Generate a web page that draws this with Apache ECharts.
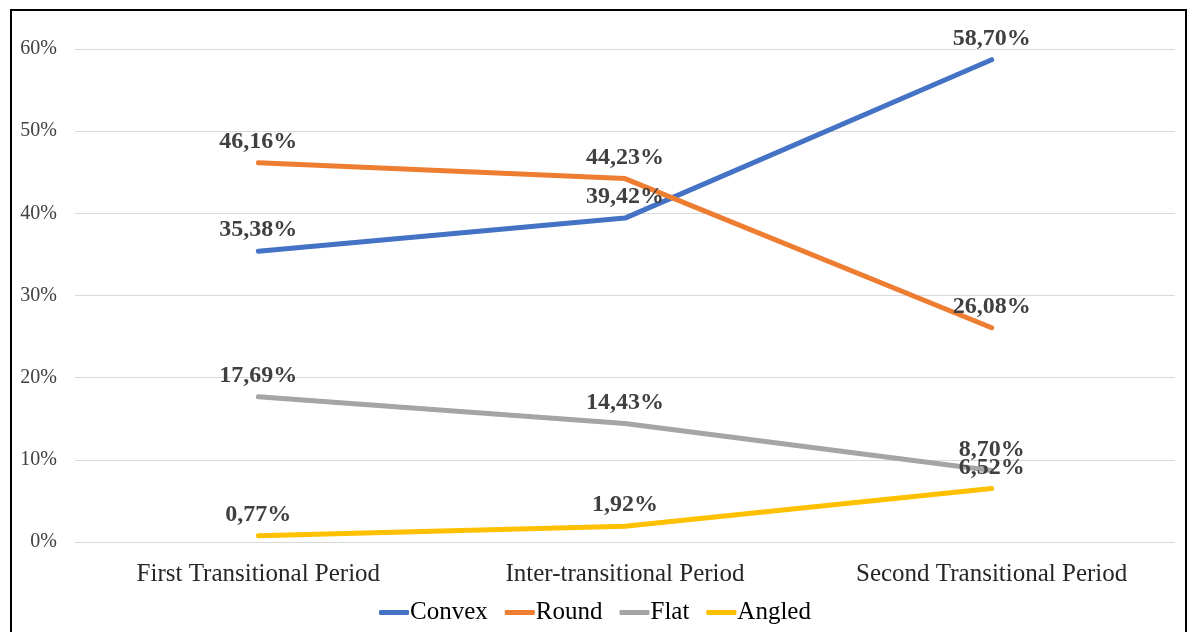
<!DOCTYPE html>
<html>
<head>
<meta charset="utf-8">
<script src="https://cdn.jsdelivr.net/npm/echarts@6/dist/echarts.min.js"></script>
<style>
  html, body { margin: 0; padding: 0; background: #fff; }
  #chart { width: 1190px; height: 632px; }
</style>
</head>
<body>
<div id="chart"></div>
<script>
// Periods along the x axis
const periods = ['First Transitional Period', 'Inter-transitional Period', 'Second Transitional Period'];

// Share of each shape per period (%)
const convex = [35.38, 39.42, 58.70];
const round = [46.16, 44.23, 26.08];
const flat = [17.69, 14.43, 8.70];
const angled = [0.77, 1.92, 6.52];

const seriesNames = ['Convex', 'Round', 'Flat', 'Angled'];
const seriesColors = ['#4472C4', '#ED7D31', '#A5A5A5', '#FFC000'];
const seriesData = [convex, round, flat, angled];

const serif = '"Liberation Serif", "Times New Roman", serif';

const chart = echarts.init(document.getElementById('chart'));

chart.setOption({
  animation: false,
  backgroundColor: '#fff',
  grid: { left: 75, right: 15, top: 49, bottom: 90 },
  graphic: [{
    type: 'rect',
    shape: { x: 11, y: 10, width: 1175, height: 640 },
    style: { fill: 'none', stroke: '#000', lineWidth: 2 },
    silent: true,
    z: 100
  }],
  legend: {
    data: seriesNames,
    bottom: 2,
    left: 'center',
    icon: 'roundRect',
    itemWidth: 30,
    itemHeight: 5,
    itemGap: 17,
    textStyle: { fontFamily: serif, fontSize: 25, color: '#000', padding: [0, 0, 0, -4] }
  },
  xAxis: {
    type: 'category',
    data: periods,
    boundaryGap: true,
    axisLine: { show: false },
    axisTick: { show: false },
    axisLabel: { fontFamily: serif, fontSize: 25, color: '#262626', margin: 20 }
  },
  yAxis: {
    type: 'value',
    min: 0,
    max: 60,
    interval: 10,
    axisLine: { show: false },
    axisTick: { show: false },
    axisLabel: {
      formatter: '{value}%',
      fontFamily: serif,
      fontSize: 20,
      color: '#404040',
      margin: 18
    },
    splitLine: { lineStyle: { color: '#D9D9D9', width: 1 } }
  },
  series: seriesNames.map((name, i) => ({
    name: name,
    type: 'line',
    data: seriesData[i],
    symbol: 'circle',
    symbolSize: 0.1,
    showSymbol: true,
    color: seriesColors[i],
    lineStyle: { width: 5, cap: 'round', join: 'round', color: seriesColors[i] },
    label: {
      show: true,
      position: 'top',
      distance: 9,
      fontFamily: serif,
      fontSize: 24,
      fontWeight: 'bold',
      color: '#404040',
      formatter: p => p.value.toFixed(2).replace('.', ',') + '%'
    },
    labelLayout: { hideOverlap: false }
  }))
});
</script>
</body>
</html>
